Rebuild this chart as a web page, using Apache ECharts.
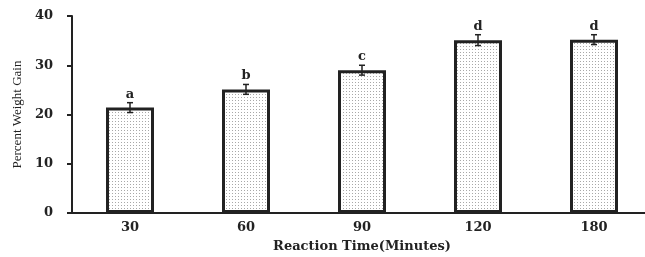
<!DOCTYPE html>
<html>
<head>
<meta charset="utf-8">
<script src="https://cdn.jsdelivr.net/npm/echarts@6/dist/echarts.min.js"></script>
<style>
  html, body { margin: 0; padding: 0; background: #fff; }
  #chart { width: 645px; height: 257px; }
</style>
</head>
<body>
<div id="chart"></div>
<script>
// data
const categories = ['30', '60', '90', '120', '180']
const weightGain = [21.4, 25.1, 29.0, 35.1, 35.2]
const errors = [1.0, 1.0, 1.0, 1.1, 1.0]
const letters = ['a', 'b', 'c', 'd', 'd']
const yTicks = [0, 10, 20, 30, 40]

const ink = '#222'

// dotted fill like the printed bars
const makeDots = () => {
  const c = document.createElement('canvas')
  c.width = 3
  c.height = 3
  const ctx = c.getContext('2d')
  ctx.fillStyle = '#fff'
  ctx.fillRect(0, 0, 3, 3)
  ctx.fillStyle = '#a8a8a8'
  ctx.fillRect(1, 1, 1, 1)
  return c
}

const chart = echarts.init(document.getElementById('chart'))

const option = {
  animation: false,
  grid: { left: 72, width: 580, top: 16, bottom: 44, outerBoundsMode: 'none', containLabel: false },
  xAxis: {
    type: 'category',
    data: categories,
    name: 'Reaction Time(Minutes)',
    nameLocation: 'middle',
    nameGap: 27,
    nameTextStyle: { fontFamily: 'DejaVu Serif', fontWeight: 'bold', fontSize: 13, color: ink },
    axisLine: { lineStyle: { color: ink, width: 2 } },
    axisTick: { length: 3, lineStyle: { color: ink, width: 2 } },
    axisLabel: { margin: 8, fontFamily: 'DejaVu Serif', fontWeight: 'bold', fontSize: 13, color: ink }
  },
  yAxis: {
    type: 'value',
    min: yTicks[0],
    max: yTicks[yTicks.length - 1],
    interval: 10,
    name: 'Percent Weight Gain',
    nameLocation: 'middle',
    nameGap: 48,
    nameTextStyle: { fontFamily: 'Liberation Serif', fontSize: 13, color: ink },
    splitLine: { show: false },
    axisLine: { show: true, lineStyle: { color: ink, width: 2 } },
    axisTick: { show: true, length: 5, lineStyle: { color: ink, width: 2 } },
    axisLabel: { margin: 19, fontFamily: 'DejaVu Serif', fontWeight: 'bold', fontSize: 13, color: ink }
  },
  series: [
    {
      type: 'bar',
      data: weightGain,
      barWidth: 48,
      itemStyle: {
        color: { image: makeDots(), repeat: 'repeat' },
        borderColor: ink,
        borderWidth: 3
      }
    },
    {
      type: 'custom',
      data: weightGain.map((v, i) => [i, v, errors[i], letters[i]]),
      z: 5,
      renderItem: (params, api) => {
        const x = api.value(0)
        const v = api.value(1)
        const e = api.value(2)
        const top = api.coord([x, v + e])
        const bot = api.coord([x, v - e])
        const cap = 3
        const style = { stroke: ink, lineWidth: 1.5 }
        return {
          type: 'group',
          children: [
            { type: 'line', shape: { x1: top[0], y1: top[1], x2: bot[0], y2: bot[1] }, style },
            { type: 'line', shape: { x1: top[0] - cap, y1: top[1], x2: top[0] + cap, y2: top[1] }, style },
            { type: 'line', shape: { x1: bot[0] - cap, y1: bot[1], x2: bot[0] + cap, y2: bot[1] }, style },
            {
              type: 'text',
              style: {
                x: top[0],
                y: top[1] - 2,
                text: letters[params.dataIndex],
                align: 'center',
                verticalAlign: 'bottom',
                font: 'bold 13px "DejaVu Serif"',
                fill: ink
              }
            }
          ]
        }
      }
    }
  ]
}

chart.setOption(option)
</script>
</body>
</html>
